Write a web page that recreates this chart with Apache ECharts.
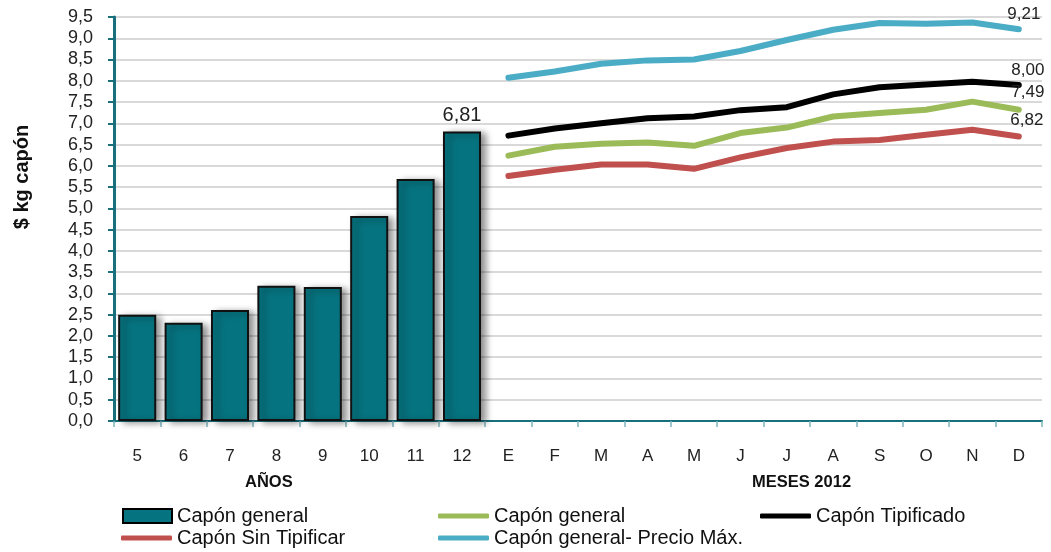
<!DOCTYPE html>
<html><head><meta charset="utf-8">
<script src="https://cdn.jsdelivr.net/npm/echarts@6/dist/echarts.min.js"></script>
<style>html,body{margin:0;padding:0;background:#fff}#c{width:1051px;height:552px}</style>
</head><body><div id="c"></div>
<script>
const categories = ['5','6','7','8','9','10','11','12','E','F','M','A','M','J','J','A','S','O','N','D'];
const yTicks = [0,0.5,1,1.5,2,2.5,3,3.5,4,4.5,5,5.5,6,6.5,7,7.5,8,8.5,9,9.5];
const barYears = [2.50, 2.31, 2.61, 3.18, 3.15, 4.82, 5.69, 6.81];
const lineGeneral =   [6.24, 6.45, 6.52, 6.55, 6.47, 6.77, 6.90, 7.16, 7.24, 7.32, 7.51, 7.32];
const lineTipificado = [6.71, 6.88, 7.00, 7.12, 7.16, 7.31, 7.38, 7.68, 7.85, 7.91, 7.98, 7.90];
const lineSinTip =    [5.76, 5.91, 6.03, 6.03, 5.93, 6.20, 6.42, 6.57, 6.61, 6.73, 6.85, 6.69];
const linePrecioMax = [8.07, 8.22, 8.40, 8.48, 8.50, 8.70, 8.96, 9.20, 9.36, 9.34, 9.37, 9.21];
const endLabels = {general:'7,49', tipificado:'8,00', sinTip:'6,82', max:'9,21'};
const seriesNames = ['Capón general','Capón general ','Capón Tipificado','Capón Sin Tipificar','Capón general- Precio Máx.'];

const FONT = '"Liberation Sans",Arial,sans-serif';
const nYears = barYears.length;
const pad = n => new Array(n).fill(null);
const lblStyle = {fontSize:17, color:'#222', fontFamily:FONT};

function lineData(vals, lbl, off){
  const d = pad(nYears).concat(vals.slice());
  const last = d.length - 1;
  d[last] = {value: vals[vals.length-1], label:Object.assign({show:true, position:'top', distance:6, offset:off, formatter: lbl}, lblStyle)};
  return d;
}
const barData = barYears.map((v,i)=> i===nYears-1 ? {value:v, label:Object.assign({}, lblStyle, {show:true, position:'top', distance:6, fontSize:20, formatter: v.toFixed(2).replace('.',',')})} : v).concat(pad(12));

function lineSeries(name, color, data){
  return {name, type:'line', data, symbol:'circle', symbolSize:1, showSymbol:true, connectNulls:false,
    lineStyle:{color, width:6, cap:'round', join:'round'}, itemStyle:{color}, z:3};
}
const legText = {fontSize:20, color:'#111', fontFamily:FONT, lineHeight:20};
function leg(name, left, top, isBar){
  return isBar
    ? {data:[name], left, top, padding:0, icon:'rect', itemWidth:49, itemHeight:14, itemGap:0, textStyle:legText,
        itemStyle:{borderColor:'#000', borderWidth:2}}
    : {data:[name], left, top, padding:0, icon:'roundRect', itemWidth:51, itemHeight:5, itemGap:0, textStyle:legText};
}

const chart = echarts.init(document.getElementById('c'), null, {renderer:'canvas'});
chart.setOption({
  animation:false,
  textStyle:{fontFamily:FONT},
  grid:{left:114, right:9, top:17, bottom:131},
  xAxis:{type:'category', data:categories, boundaryGap:true,
    axisLine:{lineStyle:{color:'#17707c', width:2}},
    axisTick:{show:true, interval:0, length:6, lineStyle:{color:'#7fb4bd', width:1.5}},
    axisLabel:{interval:0, margin:27, fontSize:17, color:'#222', fontFamily:FONT}},
  yAxis:{type:'value', min:yTicks[0], max:yTicks[yTicks.length-1], interval:0.5,
    axisLine:{show:true, lineStyle:{color:'#17707c', width:3}},
    axisTick:{show:true, length:6, inside:false, lineStyle:{color:'#17707c', width:2}},
    axisLabel:{fontSize:18, color:'#222', margin:21, formatter:v=>v.toFixed(1).replace('.',','), fontFamily:FONT},
    splitLine:{lineStyle:{color:'#d9d9d9', width:2}}},
  legend:[
    leg(seriesNames[0], 122, 506, true),
    leg(seriesNames[1], 438, 506, false),
    leg(seriesNames[2], 760, 506, false),
    leg(seriesNames[3], 121, 528, false),
    leg(seriesNames[4], 438, 528, false)
  ],
  graphic:[
    {type:'text', x:22, y:177, rotation:Math.PI/2, style:{text:'$ kg capón', fontSize:20, fontWeight:'bold', fill:'#111', fontFamily:FONT, align:'center', verticalAlign:'middle'}},
    {type:'text', left:245, top:474, style:{text:'AÑOS', fontSize:16.5, fontWeight:'bold', fill:'#111', fontFamily:FONT}},
    {type:'text', left:752, top:474, style:{text:'MESES 2012', fontSize:16.5, fontWeight:'bold', fill:'#111', fontFamily:FONT}}
  ],
  series:[
    {name:seriesNames[0], type:'bar', data:barData, barWidth:'82%',
      itemStyle:{color:'#067480', borderColor:'#111', borderWidth:2,
        shadowColor:'rgba(0,0,0,0.45)', shadowBlur:7, shadowOffsetX:5, shadowOffsetY:2}},
    lineSeries(seriesNames[1], '#9bbb59', lineData(lineGeneral, endLabels.general, [9,-2])),
    lineSeries(seriesNames[2], '#000000', lineData(lineTipificado, endLabels.tipificado, [9,0])),
    lineSeries(seriesNames[3], '#c0504d', lineData(lineSinTip, endLabels.sinTip, [8,-1])),
    lineSeries(seriesNames[4], '#4bacc6', lineData(linePrecioMax, endLabels.max, [5,0]))
  ]
});
</script></body></html>
